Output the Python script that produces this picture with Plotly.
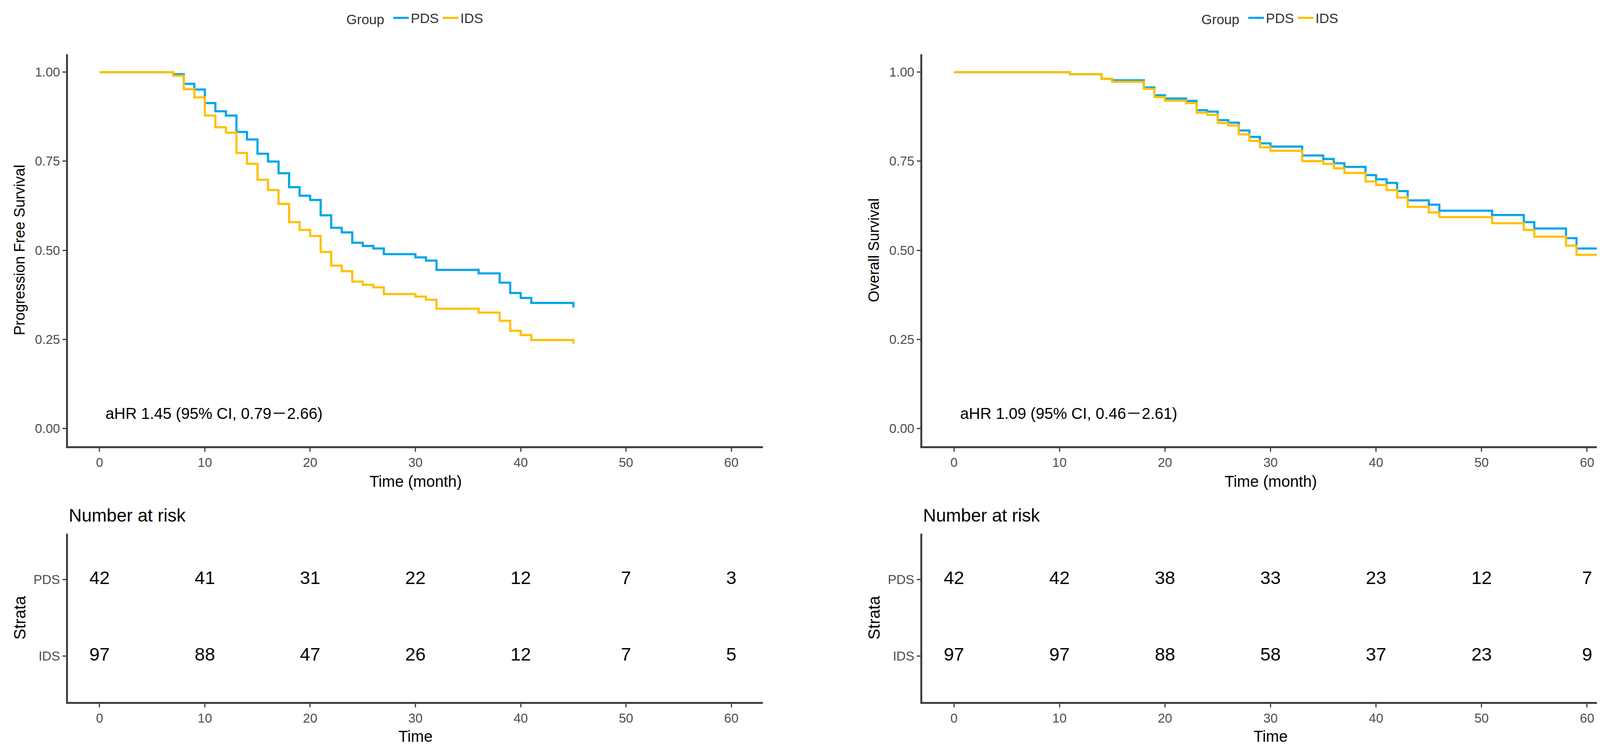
import plotly.graph_objects as go

# ---------------- data ----------------
groups = ["PDS", "IDS"]
colors = {"PDS": "#00A5E8", "IDS": "#FFC000"}

pfs_time = [0, 7, 8, 9, 10, 11, 12, 13, 14, 15, 16, 17, 18, 19, 20, 21, 22, 23,
            24, 25, 26, 27, 30, 31, 32, 36, 38, 39, 40, 41, 45]
pfs_pds = [1.0, 0.994, 0.967, 0.951, 0.913, 0.890, 0.878, 0.832, 0.811, 0.771,
           0.749, 0.716, 0.677, 0.653, 0.641, 0.598, 0.563, 0.550, 0.521, 0.512,
           0.505, 0.489, 0.480, 0.471, 0.445, 0.435, 0.409, 0.380, 0.366, 0.352,
           0.339]
pfs_ids = [1.0, 0.990, 0.952, 0.929, 0.878, 0.845, 0.830, 0.773, 0.743, 0.698,
           0.669, 0.630, 0.579, 0.557, 0.540, 0.495, 0.457, 0.441, 0.412, 0.403,
           0.396, 0.377, 0.370, 0.361, 0.336, 0.325, 0.302, 0.274, 0.262, 0.248,
           0.238]

os_time = [0, 11, 14, 15, 18, 19, 20, 22, 23, 24, 25, 26, 27, 28, 29, 30, 33, 35,
           36, 37, 39, 40, 41, 42, 43, 45, 46, 51, 54, 55, 58, 59, 63]
os_pds = [1.0, 0.994, 0.981, 0.977, 0.957, 0.935, 0.926, 0.919, 0.893, 0.889,
          0.865, 0.858, 0.836, 0.818, 0.800, 0.791, 0.766, 0.756, 0.744, 0.734,
          0.711, 0.699, 0.689, 0.666, 0.640, 0.628, 0.611, 0.599, 0.579, 0.561,
          0.534, 0.505, 0.505]
os_ids = [1.0, 0.994, 0.981, 0.973, 0.953, 0.930, 0.920, 0.913, 0.886, 0.880,
          0.857, 0.850, 0.825, 0.807, 0.789, 0.779, 0.750, 0.742, 0.730, 0.717,
          0.693, 0.683, 0.669, 0.648, 0.622, 0.606, 0.593, 0.576, 0.557, 0.538,
          0.513, 0.487, 0.487]

risk_time = [0, 10, 20, 30, 40, 50, 60]
pfs_risk_pds = [42, 41, 31, 22, 12, 7, 3]
pfs_risk_ids = [97, 88, 47, 26, 12, 7, 5]
os_risk_pds = [42, 42, 38, 33, 23, 12, 7]
os_risk_ids = [97, 97, 88, 58, 37, 23, 9]

x_ticks = [0, 10, 20, 30, 40, 50, 60]
y_ticks = [0, 0.25, 0.5, 0.75, 1.0]
strata_pos = {"IDS": 1, "PDS": 2}

DASH = "<span style=\"font-family:'Noto Sans CJK SC'\">\uFF0D</span>"
pfs_label = "aHR 1.45 (95% CI, 0.79" + DASH + "2.66)"
os_label = "aHR 1.09 (95% CI, 0.46" + DASH + "2.61)"

# ---------------- layout helpers ----------------
W, H = 4165, 1916
FONT = "Liberation Sans, Arial, sans-serif"


def px(x):
    return x / W


def py(y):
    return 1 - y / H


fig = go.Figure()

curves = [
    ("x", "y", "legend", pfs_time, {"PDS": pfs_pds, "IDS": pfs_ids}),
    ("x2", "y2", "legend2", os_time, {"PDS": os_pds, "IDS": os_ids}),
]
for xa, ya, lg, t, vals in curves:
    for g in groups:
        fig.add_trace(go.Scatter(
            x=t, y=vals[g], mode="lines", name=g,
            line=dict(color=colors[g], width=5.5, shape="hv"),
            xaxis=xa, yaxis=ya, legend=lg, showlegend=True,
        ))

risks = [
    ("x3", "y3", {"PDS": pfs_risk_pds, "IDS": pfs_risk_ids}),
    ("x4", "y4", {"PDS": os_risk_pds, "IDS": os_risk_ids}),
]
for xa, ya, vals in risks:
    for g in groups:
        fig.add_trace(go.Scatter(
            x=risk_time, y=[strata_pos[g]] * len(risk_time), mode="text",
            text=[str(v) for v in vals[g]], textposition="middle center",
            textfont=dict(size=47, color="black", family=FONT),
            xaxis=xa, yaxis=ya, showlegend=False, hoverinfo="skip",
        ))

axis_style = dict(showline=True, linecolor="#404040", linewidth=4.5,
                  ticks="outside", ticklen=9, tickwidth=3, tickcolor="#404040",
                  showgrid=False, zeroline=False,
                  tickfont=dict(size=33, color="#4D4D4D", family=FONT))

left = (166, 1945)
right = (2353, 4136)
km_y = (131, 1135)
rk_y = (1359, 1790)

layout = dict(
    width=W, height=H, autosize=False,
    margin=dict(l=0, r=0, t=0, b=0),
    paper_bgcolor="white", plot_bgcolor="white",
    font=dict(family=FONT, color="black"),
)
for i, (xd, yd) in enumerate([(left, km_y), (right, km_y), (left, rk_y), (right, rk_y)], start=1):
    xn = "xaxis" if i == 1 else f"xaxis{i}"
    yn = "yaxis" if i == 1 else f"yaxis{i}"
    ya = "y" if i == 1 else f"y{i}"
    xa = "x" if i == 1 else f"x{i}"
    layout[xn] = dict(axis_style, domain=[px(xd[0]), px(xd[1])], anchor=ya,
                      range=[-3, 63], tickvals=x_ticks)
    if i <= 2:
        layout[yn] = dict(axis_style, domain=[py(yd[1]), py(yd[0])], anchor=xa,
                          range=[-0.05, 1.05], tickvals=y_ticks, tickformat=".2f")
    else:
        layout[yn] = dict(axis_style, domain=[py(yd[1]), py(yd[0])], anchor=xa,
                          range=[0.4, 2.6], tickvals=[strata_pos["IDS"], strata_pos["PDS"]],
                          ticktext=["IDS", "PDS"])

legend_style = dict(orientation="h", xanchor="center", yanchor="middle",
                    y=py(38), bgcolor="rgba(0,0,0,0)",
                    font=dict(size=35, color="#333333", family=FONT),
                    title=dict(text="Group ", side="left",
                               font=dict(size=35, color="#333333", family=FONT)),
                    itemwidth=40, tracegroupgap=0)
layout["legend"] = dict(legend_style, x=px((left[0] + left[1]) / 2))
layout["legend2"] = dict(legend_style, x=px((right[0] + right[1]) / 2))

fig.update_layout(**layout)

ann = []
for (x0, x1), ytitle, xref, yref, lab in [
    (left, "Progression Free Survival", "x", "y", pfs_label),
    (right, "Overall Survival", "x2", "y2", os_label),
]:
    cx = (x0 + x1) / 2
    ann.append(dict(text="Time (month)", x=px(cx), y=py(1225), xref="paper", yref="paper",
                    showarrow=False, font=dict(size=40, color="black"),
                    xanchor="center", yanchor="middle"))
    ann.append(dict(text="Time", x=px(cx), y=py(1878), xref="paper", yref="paper",
                    showarrow=False, font=dict(size=40, color="black"),
                    xanchor="center", yanchor="middle"))
    ann.append(dict(text=ytitle, x=px(x0 - 124), y=py((km_y[0] + km_y[1]) / 2),
                    xref="paper", yref="paper", showarrow=False, textangle=-90,
                    font=dict(size=38, color="black"), xanchor="center", yanchor="middle"))
    ann.append(dict(text="Strata", x=px(x0 - 124), y=py((rk_y[0] + rk_y[1]) / 2),
                    xref="paper", yref="paper", showarrow=False, textangle=-90,
                    font=dict(size=42, color="black"), xanchor="center", yanchor="middle"))
    ann.append(dict(text="Number at risk", x=px(x0), y=py(1312), xref="paper", yref="paper",
                    showarrow=False, font=dict(size=46, color="black"),
                    xanchor="left", yanchor="middle"))
    ann.append(dict(text=lab, x=0.5, y=0.045, xref=xref, yref=yref, showarrow=False,
                    font=dict(size=40, color="black"), xanchor="left", yanchor="middle"))

fig.update_layout(annotations=ann)
fig.write_html("out.html")
